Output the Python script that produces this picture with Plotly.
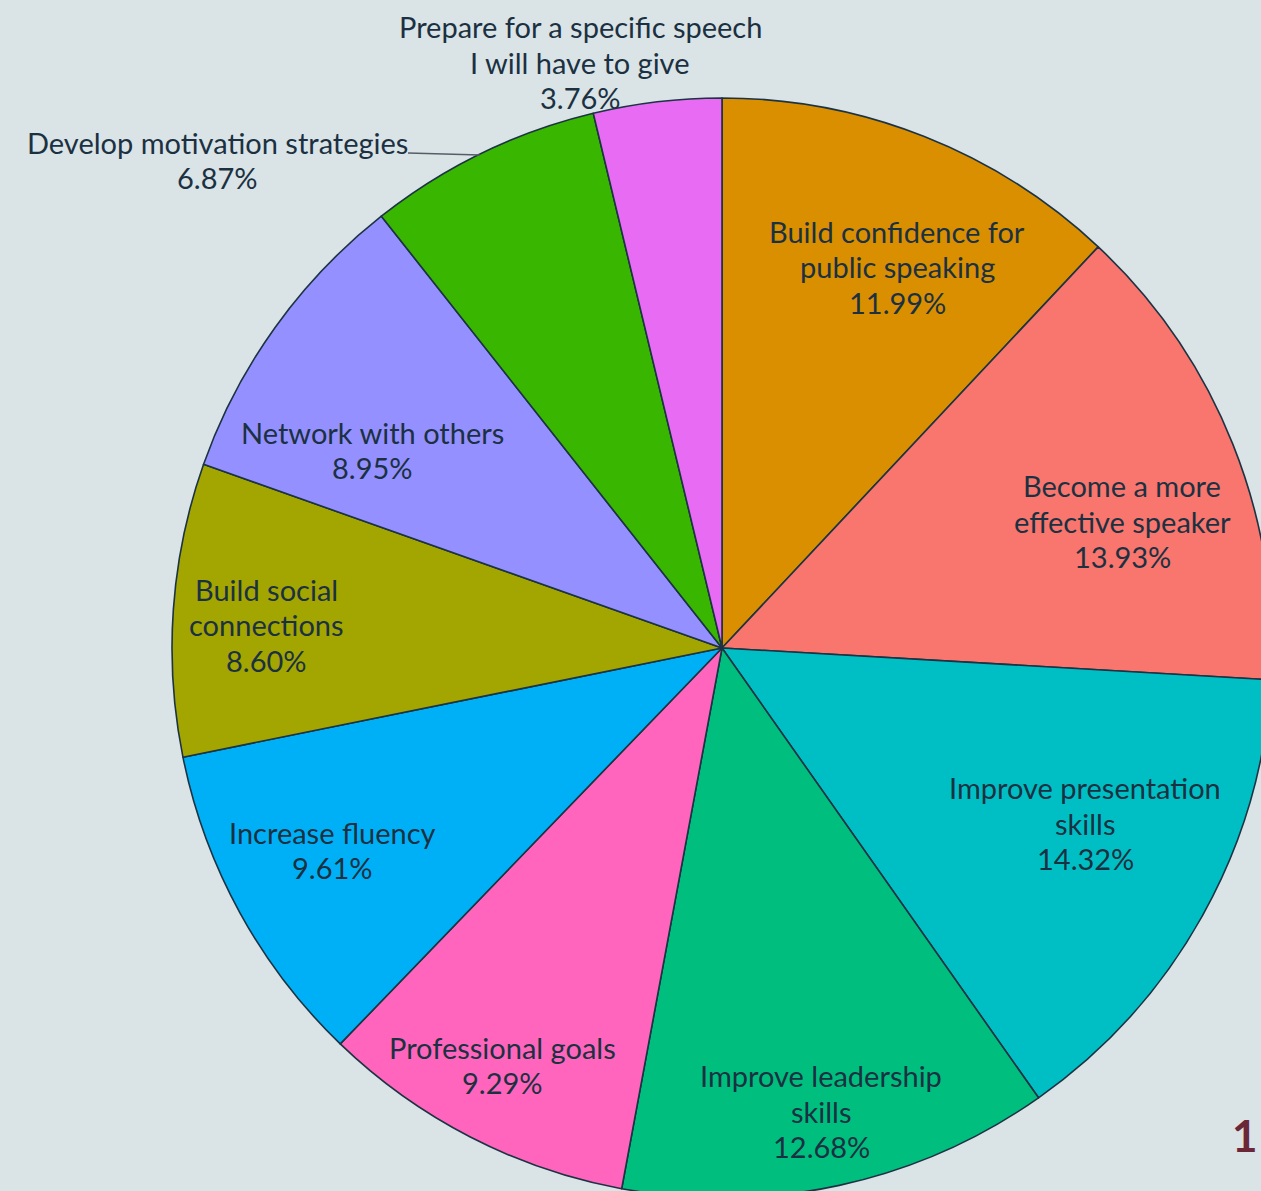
import plotly.graph_objects as go

# Survey results: reasons for joining, share of responses (%)
categories = [
    "Build confidence for public speaking",
    "Become a more effective speaker",
    "Improve presentation skills",
    "Improve leadership skills",
    "Professional goals",
    "Increase fluency",
    "Build social connections",
    "Network with others",
    "Develop motivation strategies",
    "Prepare for a specific speech I will have to give",
]
shares = [11.99, 13.93, 14.32, 12.68, 9.29, 9.61, 8.60, 8.95, 6.87, 3.76]

# Wrapped label text for each slice
label_lines = [
    ["Build confidence for", "public speaking"],
    ["Become a more", "effective speaker"],
    ["Improve presentation", "skills"],
    ["Improve leadership", "skills"],
    ["Professional goals"],
    ["Increase fluency"],
    ["Build social", "connections"],
    ["Network with others"],
    ["Develop motivation strategies"],
    ["Prepare for a specific speech", "I will have to give"],
]

colors = ["#D98F00", "#F8766D", "#00BFC4", "#00BE7D", "#FF65BC",
          "#00B0F6", "#A3A500", "#9590FF", "#39B600", "#E76BF3"]

# Page geometry (pixels)
W, H = 1272, 1198
ML, MT = 172, 98
PW, PH = W - ML, H - MT

# Label block centres in pixels
label_px = [
    (897, 267), (1122, 521), (1085, 823), (821, 1111), (502, 1065),
    (332, 850), (266, 625), (372, 450), (217, 160), (580, 62),
]
LINE_GAP = 35.5  # px between text lines

def to_paper(px, py):
    return (px - ML) / PW, 1 - (py - MT) / PH

TEXT = "#1B3142"
FONT = "Lato"
FSIZE = 29

fig = go.Figure(go.Pie(
    labels=categories,
    values=shares,
    sort=False,
    direction="clockwise",
    rotation=0,
    marker=dict(colors=colors, line=dict(color="#1C3344", width=1.6)),
    textinfo="none",
    hoverinfo="label+percent",
    showlegend=False,
))

annotations = []
for lines, val, (px, py) in zip(label_lines, shares, label_px):
    rows = lines + [f"{val:.2f}%"]
    n = len(rows)
    for i, row in enumerate(rows):
        x, y = to_paper(px, py + (i - (n - 1) / 2) * LINE_GAP)
        annotations.append(dict(
            x=x, y=y, xref="paper", yref="paper", text=row,
            showarrow=False, xanchor="center", yanchor="middle",
            font=dict(family=FONT, size=FSIZE, color=TEXT),
        ))

# page number
nx, ny = to_paper(1245, 1135)
annotations.append(dict(
    x=nx, y=ny, xref="paper", yref="paper", text="<b>1</b>",
    showarrow=False, xanchor="center", yanchor="middle",
    font=dict(family=FONT, size=44, color="#6B2737"),
))

# leader line for the motivation label
x0, y0 = to_paper(408, 153)
x1, y1 = to_paper(480, 155)
shapes = [dict(type="line", xref="paper", yref="paper", x0=x0, y0=y0, x1=x1, y1=y1,
               line=dict(color="#555E66", width=1.5))]

fig.update_layout(
    width=W, height=H,
    margin=dict(l=ML, t=MT, r=0, b=0, pad=0),
    paper_bgcolor="#DAE3E6",
    plot_bgcolor="#DAE3E6",
    annotations=annotations,
    shapes=shapes,
)

fig.write_html(
    "out.html",
    config={"displayModeBar": False},
    post_script="document.documentElement.style.overflow='hidden';document.body.style.overflow='hidden';document.body.style.margin='0';",
)
